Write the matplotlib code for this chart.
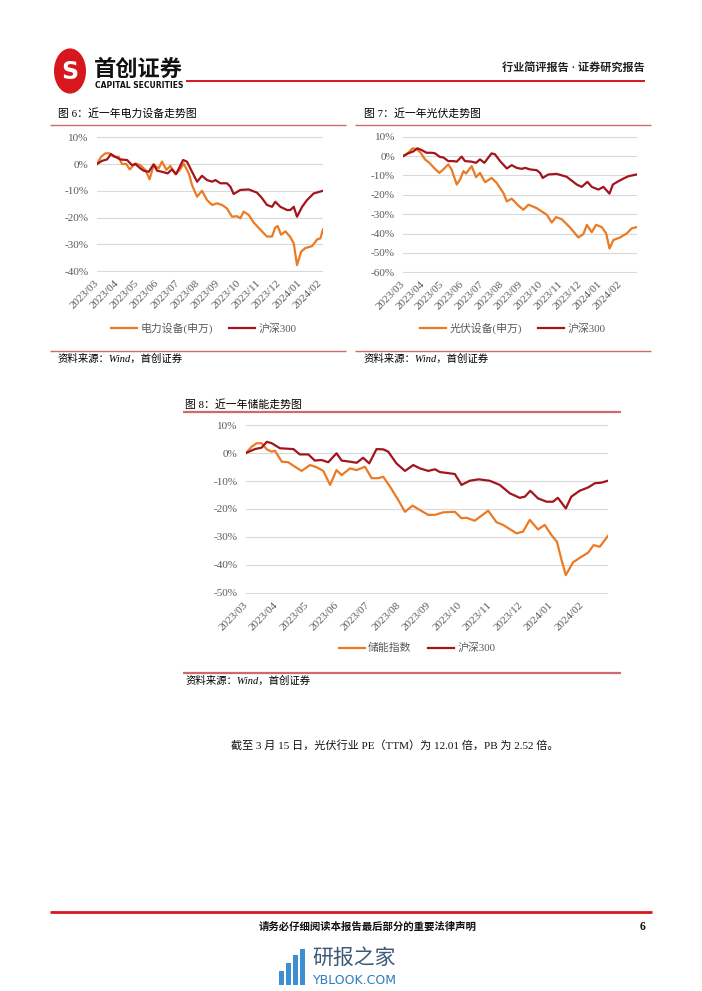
import matplotlib
matplotlib.use("Agg")
import matplotlib.pyplot as plt
from matplotlib.lines import Line2D
from matplotlib.patches import Circle, Rectangle

plt.rcParams['font.family'] = ['Liberation Serif', 'Noto Sans CJK SC']

W, H = 702, 991

# ---- data (x = months since 2023/03) ----
months = ["2023/03", "2023/04", "2023/05", "2023/06", "2023/07", "2023/08",
          "2023/09", "2023/10", "2023/11", "2023/12", "2024/01", "2024/02"]

# 图6 电力设备(申万)
t6_dl = [0, 0.2, 0.41, 0.62, 0.82, 1.07, 1.23, 1.44, 1.61, 1.89, 2.13, 2.38, 2.59, 2.79, 3.04,
         3.2, 3.42, 3.61, 3.86, 4.1, 4.27, 4.52, 4.68, 4.93, 5.17, 5.42, 5.67, 5.91, 6.16, 6.4,
         6.65, 6.9, 7.06, 7.22, 7.47, 7.72, 8.05, 8.37, 8.62, 8.78, 8.9, 9.06, 9.28, 9.52, 9.69,
         9.85, 10.05, 10.26, 10.59, 10.84, 11.0, 11.13]
v6_dl = [0, 2.7, 4.0, 4.0, 2.7, 2.7, 0, 0, -2.0, 0.2, -0.4, -2.2, -5.7, -0.4, -1.6,
         0.9, -2.2, -0.7, -3.9, -2.0, 0.2, -3.5, -7.9, -12.2, -10.0, -13.5, -15.3, -14.7, -15.3, -16.6,
         -19.7, -19.5, -20.3, -17.8, -19.0, -21.9, -24.6, -27.1, -27.1, -23.7, -23.2, -26.4, -25.2, -27.3, -29.7,
         -37.8, -32.8, -31.4, -30.7, -28.2, -27.8, -24.4]
# 图6 沪深300
t6_hs = [0, 0.25, 0.49, 0.69, 0.9, 1.15, 1.48, 1.72, 1.89, 2.13, 2.3, 2.55, 2.79, 2.96, 3.2,
         3.48, 3.69, 3.9, 4.24, 4.43, 4.68, 4.93, 5.17, 5.42, 5.67, 5.83, 6.08, 6.4, 6.57, 6.73,
         7.06, 7.47, 7.88, 8.1, 8.37, 8.62, 8.78, 9.03, 9.36, 9.52, 9.69, 9.85, 10.1, 10.34, 10.67, 11.13]
v6_hs = [0, 1.2, 1.7, 3.7, 2.7, 1.7, 1.5, -0.4, 0, -1.6, -2.5, -2.9, -0.1, -2.5, -2.9,
         -3.5, -2.0, -3.7, 1.5, 0.9, -2.9, -6.6, -4.4, -6.0, -6.6, -6.0, -7.2, -7.2, -8.5, -11.2,
         -9.7, -9.5, -10.7, -12.5, -15.3, -16.0, -14.1, -16.0, -17.2, -17.2, -16.0, -19.7, -16.0, -13.5, -11.0, -10.0]

# 图7 光伏设备(申万)
t7_pv = [0, 0.25, 0.47, 0.68, 0.88, 1.1, 1.32, 1.61, 1.83, 2.03, 2.28, 2.45, 2.71, 2.88, 3.05,
         3.18, 3.47, 3.69, 3.89, 4.15, 4.48, 4.74, 5.08, 5.25, 5.5, 5.84, 6.09, 6.35, 6.77, 7.28,
         7.53, 7.75, 8.04, 8.46, 8.88, 9.14, 9.31, 9.56, 9.78, 10.07, 10.29, 10.46, 10.66, 11.0, 11.34,
         11.59, 11.84]
v7_pv = [0, 1.7, 4.0, 3.5, 1.7, -1.7, -3.5, -6.6, -8.7, -6.9, -4.3, -6.9, -14.7, -12.1, -7.8,
         -9.0, -5.2, -10.9, -8.7, -13.5, -11.3, -13.9, -19.1, -23.4, -22.0, -25.6, -27.7, -25.1, -26.9, -30.3,
         -34.3, -31.5, -32.6, -36.9, -42.0, -40.2, -35.5, -39.3, -35.5, -36.7, -39.9, -47.7, -43.3, -42.0, -39.9,
         -37.3, -36.7]
# 图7 沪深300
t7_hs = [0, 0.25, 0.51, 0.71, 0.93, 1.18, 1.44, 1.61, 1.86, 2.03, 2.28, 2.54, 2.71, 2.96, 3.13,
         3.47, 3.69, 3.89, 4.11, 4.48, 4.65, 4.91, 5.25, 5.5, 5.75, 6.01, 6.18, 6.43, 6.77, 6.94,
         7.07, 7.36, 7.78, 8.29, 8.8, 9.05, 9.34, 9.56, 9.9, 10.15, 10.46, 10.63, 10.91, 11.17, 11.42, 11.84]
v7_hs = [0, 1.4, 2.4, 4.0, 3.1, 1.7, 1.7, 1.4, -0.5, -0.7, -2.6, -2.6, -2.9, -0.3, -2.6,
         -2.9, -3.5, -1.7, -3.5, 1.4, 0.9, -2.6, -6.4, -4.7, -6.1, -6.6, -6.1, -6.9, -7.3, -8.7,
         -11.3, -9.5, -9.2, -10.7, -14.7, -15.9, -13.3, -15.9, -17.3, -15.9, -19.4, -14.7, -13.0, -11.6, -10.4, -9.5]

# 图8 储能指数
t8_es = [0, 0.19, 0.35, 0.51, 0.68, 0.84, 0.95, 1.17, 1.38, 1.6, 1.82, 2.09, 2.31, 2.53, 2.75,
         2.96, 3.13, 3.4, 3.62, 3.89, 4.11, 4.32, 4.49, 4.71, 4.98, 5.2, 5.45, 5.69, 5.96, 6.18,
         6.45, 6.83, 7.05, 7.21, 7.48, 7.92, 8.19, 8.41, 8.85, 9.06, 9.28, 9.55, 9.77, 9.99, 10.17,
         10.32, 10.46, 10.7, 10.98, 11.19, 11.37, 11.57, 11.84]
v8_es = [0, 2.3, 3.5, 3.5, 1.3, 0.5, 0.8, -3.1, -3.3, -4.9, -6.4, -4.3, -5.1, -6.4, -11.4,
         -6.1, -7.9, -5.5, -6.1, -4.9, -9.0, -9.0, -8.5, -12.0, -16.8, -21.0, -18.8, -20.4, -22.1, -22.1,
         -21.2, -21.0, -23.3, -23.1, -24.2, -20.6, -24.7, -25.7, -28.7, -28.1, -23.9, -27.3, -25.7, -29.3, -31.7,
         -38.2, -43.6, -39.0, -37.0, -35.6, -32.9, -33.5, -29.6]
# 图8 沪深300
t8_hs = [0, 0.29, 0.51, 0.68, 0.84, 1.11, 1.55, 1.76, 2.04, 2.25, 2.47, 2.69, 2.96, 3.13, 3.4,
         3.62, 3.83, 4.03, 4.27, 4.49, 4.65, 4.92, 5.2, 5.47, 5.69, 5.96, 6.18, 6.34, 6.83, 7.05,
         7.32, 7.61, 7.97, 8.3, 8.63, 8.95, 9.12, 9.3, 9.55, 9.83, 10.04, 10.2, 10.46, 10.64, 10.91,
         11.19, 11.41, 11.62, 11.84]
v8_hs = [0, 1.4, 1.9, 4.0, 3.5, 1.7, 1.4, -0.5, -0.5, -2.7, -2.5, -3.3, -0.1, -2.7, -3.1,
         -3.5, -1.7, -3.7, 1.4, 1.3, 0.5, -3.7, -6.4, -4.3, -5.5, -6.4, -5.8, -6.8, -7.5, -11.4,
         -9.9, -9.4, -9.9, -11.4, -14.4, -16.0, -15.6, -13.5, -16.2, -17.4, -17.4, -16.0, -19.8, -15.6, -13.5,
         -12.3, -10.8, -10.6, -9.9]

ORANGE = '#EC7A23'
DARKRED = '#A3141C'
RED = '#D7161E'
PINK = '#CF6A6C'
GRAY = '#595959'

fig = plt.figure(figsize=(W / 100, H / 100), dpi=100)


def fx(x):
    return x / W


def fy(y):
    return 1 - y / H


def hline(x0, x1, y, color, lw):
    fig.add_artist(Line2D([fx(x0), fx(x1)], [fy(y), fy(y)], transform=fig.transFigure,
                          color=color, lw=lw, solid_capstyle='butt'))


def text(x, y, s, **kw):
    fig.text(fx(x), fy(y), s, **kw)


def chart(box, xend, ylo, yhi, series, names, leg_xy):
    x0, y0, x1, y1 = box
    ax = fig.add_axes([fx(x0), fy(y1), (x1 - x0) / W, (y1 - y0) / H])
    for (t, v), c, name in zip(series, [ORANGE, DARKRED], names):
        ax.plot(t, v, color=c, lw=1.6, label=name, solid_joinstyle='round')
    ax.set_xlim(0, xend)
    # tiny margin so the outer gridlines are not clipped
    ax.set_ylim(ylo - 0.4, yhi + 0.4)
    yt = list(range(ylo, yhi + 1, 10))
    ax.set_yticks(yt)
    ax.set_yticklabels([f"{v}%" for v in yt], color=GRAY, fontsize=8)
    ax.set_xticks(range(12))
    ax.set_xticklabels(months, rotation=45, ha='right', va='center',
                       rotation_mode='anchor', color=GRAY, fontsize=8)
    ax.tick_params(length=0, axis='y', pad=6)
    ax.tick_params(length=0, axis='x', pad=7)
    ax.grid(axis='y', color='#D9D9D9', lw=0.8)
    ax.set_axisbelow(True)
    for s in ax.spines.values():
        s.set_visible(False)
    ax.patch.set_alpha(0)
    ax.legend(loc='center', bbox_to_anchor=(fx(leg_xy[0]), fy(leg_xy[1])),
              bbox_transform=fig.transFigure, ncol=2, frameon=False,
              fontsize=7.8, handlelength=2.4, columnspacing=1.5, handletextpad=0.3,
              labelcolor=GRAY)
    return ax


# ---- header ----
fig.add_artist(Circle((fx(70), fy(71)), 16 / W, transform=fig.transFigure,
                      facecolor=RED, edgecolor='none'))
text(70, 72, "S", color='white', fontsize=17, fontweight='bold', family=['DejaVu Sans'],
     ha='center', va='center')
text(94, 69, "首创证券", fontsize=16, fontweight='bold', family=['Noto Sans CJK SC'],
     va='center', ha='left', color='#111111')
text(95, 85, "CAPITAL SECURITIES", fontsize=5.5, fontweight='bold', family=['DejaVu Sans'],
     va='center', ha='left', color='#111111')
hline(186, 645, 80.5, RED, 1.4)
text(645, 68, "行业简评报告 · 证券研究报告", fontsize=8, fontweight='bold', ha='right',
     va='center', color='#222222')

# ---- 图6 ----
text(58, 113, "图 6：近一年电力设备走势图", fontsize=7.8, va='center', ha='left')
hline(50, 346, 124.5, PINK, 1.0)
chart((97, 136.2, 323, 272.1), 11.13, -40, 10, [(t6_dl, v6_dl), (t6_hs, v6_hs)],
      ["电力设备(申万)", "沪深300"], (204, 328))
hline(50, 346, 351.5, PINK, 1.0)
text(58, 359, "资料来源：Wind，首创证券", fontsize=7.5, va='center', ha='left', style='italic')

# ---- 图7 ----
text(364, 113, "图 7：近一年光伏走势图", fontsize=7.8, va='center', ha='left')
hline(355, 651, 124.5, PINK, 1.0)
chart((403.3, 135.9, 636.7, 273.1), 11.84, -60, 10, [(t7_pv, v7_pv), (t7_hs, v7_hs)],
      ["光伏设备(申万)", "沪深300"], (513, 328))
hline(355, 651, 351.5, PINK, 1.0)
text(364, 359, "资料来源：Wind，首创证券", fontsize=7.5, va='center', ha='left', style='italic')

# ---- 图8 ----
text(185, 404, "图 8：近一年储能走势图", fontsize=7.8, va='center', ha='left')
hline(183, 621, 412, PINK, 1.6)
chart((246, 423.9, 608, 594.1), 11.84, -50, 10, [(t8_es, v8_es), (t8_hs, v8_hs)],
      ["储能指数", "沪深300"], (417, 648))
hline(183, 621, 673, PINK, 1.6)
text(186, 681, "资料来源：Wind，首创证券", fontsize=7.5, va='center', ha='left', style='italic')

# ---- body text ----
text(395, 745, "截至 3 月 15 日，光伏行业 PE（TTM）为 12.01 倍，PB 为 2.52 倍。",
     fontsize=8, ha='center', va='center', color='#111111')

# ---- footer ----
hline(50, 652, 912, RED, 2.0)
text(368, 927, "请务必仔细阅读本报告最后部分的重要法律声明", fontsize=7.5, fontweight='bold',
     ha='center', va='center', color='#111111')
text(645, 927, "6", fontsize=8.5, fontweight='bold', ha='right', va='center', color='#111111')

# watermark
for bx, bh in [(279, 14), (286, 22), (293, 30), (300, 36)]:
    fig.add_artist(Rectangle((fx(bx), fy(985)), 5 / W, bh / H, transform=fig.transFigure,
                             facecolor='#3C8FD0', edgecolor='none'))
text(312, 958, "研报之家", fontsize=15, family=['Noto Sans CJK SC'], ha='left', va='center',
     color='#3C5A78')
text(313, 980, "YBLOOK.COM", fontsize=9, family=['DejaVu Sans'], ha='left', va='center',
     color='#2B7BBF')

fig.savefig("out.png", dpi=100)
